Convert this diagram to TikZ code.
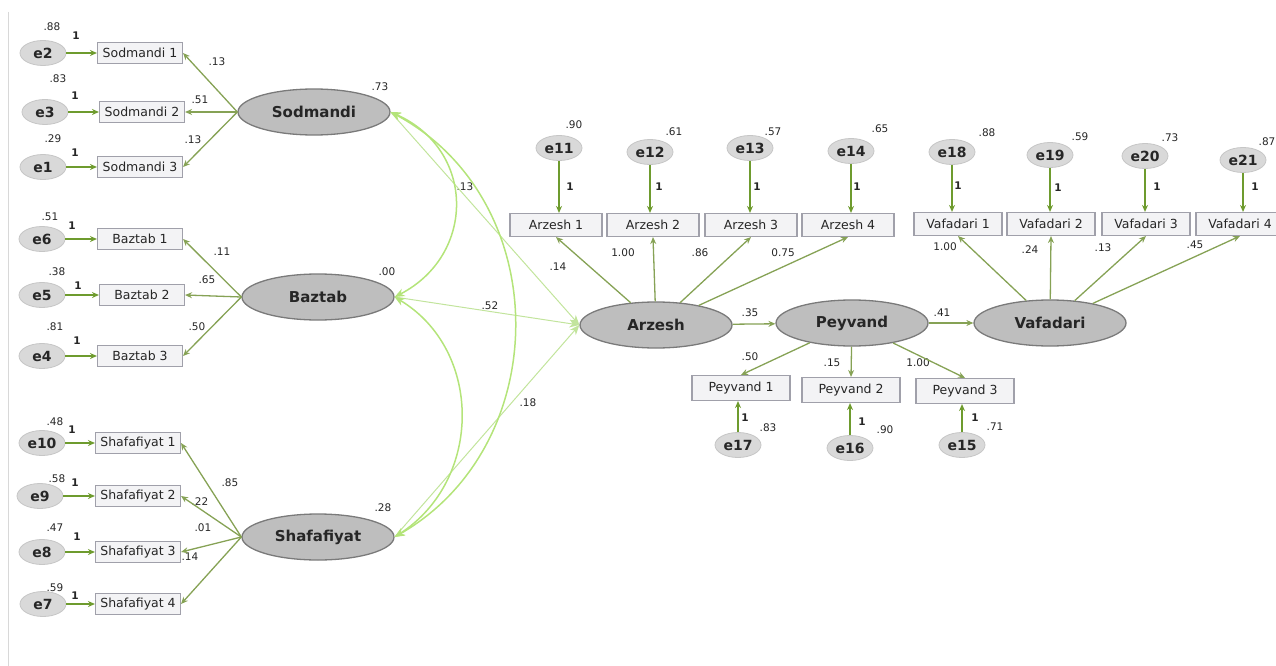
\documentclass[tikz,border=0pt]{standalone}
\usepackage{fontspec}
\setmainfont{DejaVu Sans}
\usetikzlibrary{shapes.geometric,arrows.meta}
\definecolor{latfill}{HTML}{BEBEBE}
\definecolor{latline}{HTML}{7A7A7A}
\definecolor{errfill}{HTML}{D9D9D9}
\definecolor{errline}{HTML}{C6C6C6}
\definecolor{boxfill}{HTML}{F3F3F5}
\definecolor{boxline}{HTML}{A0A0AA}
\definecolor{loadgreen}{HTML}{86A255}
\definecolor{fixgreen}{HTML}{6E9B2E}
\definecolor{covgreen}{HTML}{B4E47A}
\definecolor{reggreen}{HTML}{C2E49C}
\definecolor{rule}{HTML}{D8D8D8}
\definecolor{txt}{HTML}{262626}

\begin{document}
\begin{tikzpicture}[x=1pt,y=-1pt,text=txt,
    lat/.style={ellipse,draw=latline,fill=latfill,line width=1.3pt,minimum width=152pt,minimum height=46pt,inner sep=0pt,font=\bfseries\fontsize{15}{17}\selectfont},
    err/.style={ellipse,draw=errline,fill=errfill,line width=0.8pt,minimum width=46pt,minimum height=25pt,inner sep=0pt,font=\bfseries\fontsize{14}{16}\selectfont},
    ind/.style={rectangle,draw=boxline,fill=boxfill,line width=1.1pt,minimum width=85pt,minimum height=21pt,inner sep=0pt,font=\fontsize{12.5}{14}\selectfont},
    num/.style={font=\fontsize{10.5}{12}\selectfont,inner sep=0pt},
    one/.style={font=\bfseries\fontsize{10.5}{12}\selectfont,inner sep=0pt},
    load/.style={draw=loadgreen,line width=1.3pt,-{Stealth[length=7pt,width=6pt]}},
    fixd/.style={draw=fixgreen,line width=1.6pt,-{Stealth[length=7pt,width=6pt]}},
    reg/.style={draw=reggreen,line width=1pt,-{Stealth[length=10pt,width=8pt]}},
    cov/.style={draw=covgreen,line width=1.5pt,{Stealth[length=10pt,width=8pt]}-{Stealth[length=10pt,width=8pt]}}]
    \useasboundingbox (0,0) rectangle (1276,666);
    \coordinate (rt) at (8,12);
    \coordinate (rb) at (8,666);
    \draw[draw=rule,line width=1pt] (rt) -- (rb);

    \node[lat] (sod) at (314,112) {Sodmandi};
    \node[ind] (sod1) at (140,53) {Sodmandi 1};
    \node[ind] (sod2) at (142,112) {Sodmandi 2};
    \node[ind] (sod3) at (140,167) {Sodmandi 3};
    \node[err] (e2) at (43,53) {e2};
    \node[err] (e3) at (45,112) {e3};
    \node[err] (e1) at (43,167) {e1};
    \node[num] (v2) at (52,27) {.88};
    \node[one] (o2) at (76,36) {1};
    \node[num] (v3) at (58,79) {.83};
    \node[one] (o3) at (75,96) {1};
    \node[num] (v1) at (53,139) {.29};
    \node[one] (o1) at (75,153) {1};
    \node[num] (ls1) at (217,62) {.13};
    \node[num] (ls2) at (200,100) {.51};
    \node[num] (ls3) at (193,140) {.13};
    \node[num] (vsod) at (380,87) {.73};

    \node[lat] (baz) at (318,297) {Baztab};
    \node[ind] (baz1) at (140,239) {Baztab 1};
    \node[ind] (baz2) at (142,295) {Baztab 2};
    \node[ind] (baz3) at (140,356) {Baztab 3};
    \node[err] (e6) at (42,239) {e6};
    \node[err] (e5) at (42,295) {e5};
    \node[err] (e4) at (42,356) {e4};
    \node[num] (v6) at (50,217) {.51};
    \node[one] (o6) at (72,226) {1};
    \node[num] (v5) at (57,272) {.38};
    \node[one] (o5) at (78,286) {1};
    \node[num] (v4) at (55,327) {.81};
    \node[one] (o4) at (77,341) {1};
    \node[num] (lb1) at (222,252) {.11};
    \node[num] (lb2) at (207,280) {.65};
    \node[num] (lb3) at (197,327) {.50};
    \node[num] (vbaz) at (387,272) {.00};

    \node[lat] (sha) at (318,537) {Shafafiyat};
    \node[ind] (sha1) at (138,443) {Shafafiyat 1};
    \node[ind] (sha2) at (138,496) {Shafafiyat 2};
    \node[ind] (sha3) at (138,552) {Shafafiyat 3};
    \node[ind] (sha4) at (138,604) {Shafafiyat 4};
    \node[err] (e10) at (42,443) {e10};
    \node[err] (e9) at (40,496) {e9};
    \node[err] (e8) at (42,552) {e8};
    \node[err] (e7) at (43,604) {e7};
    \node[num] (v10) at (55,422) {.48};
    \node[one] (o10) at (72,430) {1};
    \node[num] (v9) at (57,479) {.58};
    \node[one] (o9) at (75,483) {1};
    \node[num] (v8) at (55,528) {.47};
    \node[one] (o8) at (77,537) {1};
    \node[num] (v7) at (55,588) {.59};
    \node[one] (o7) at (75,596) {1};
    \node[num] (lf1) at (230,483) {.85};
    \node[num] (lf2) at (200,502) {.22};
    \node[num] (lf3) at (203,528) {.01};
    \node[num] (lf4) at (190,557) {.14};
    \node[num] (vsha) at (383,508) {.28};

    \node[lat] (arz) at (656,325) {Arzesh};
    \node[ind,minimum width=92pt,minimum height=23pt] (arz1) at (556,225) {Arzesh 1};
    \node[ind,minimum width=92pt,minimum height=23pt] (arz2) at (653,225) {Arzesh 2};
    \node[ind,minimum width=92pt,minimum height=23pt] (arz3) at (751,225) {Arzesh 3};
    \node[ind,minimum width=92pt,minimum height=23pt] (arz4) at (848,225) {Arzesh 4};
    \node[err] (e11) at (559,148) {e11};
    \node[err] (e12) at (650,152) {e12};
    \node[err] (e13) at (750,148) {e13};
    \node[err] (e14) at (851,151) {e14};
    \node[num] (v11) at (574,125) {.90};
    \node[one] (o11) at (570,187) {1};
    \node[num] (v12) at (674,132) {.61};
    \node[one] (o12) at (659,187) {1};
    \node[num] (v13) at (773,132) {.57};
    \node[one] (o13) at (757,187) {1};
    \node[num] (v14) at (880,129) {.65};
    \node[one] (o14) at (857,187) {1};
    \node[num] (la1) at (558,267) {.14};
    \node[num] (la2) at (623,253) {1.00};
    \node[num] (la3) at (700,253) {.86};
    \node[num] (la4) at (783,253) {0.75};
    \node[num] (rs) at (465,187) {.13};
    \node[num] (rb) at (490,306) {.52};
    \node[num] (rf) at (528,403) {.18};
    \node[num] (rp) at (750,313) {.35};

    \node[lat] (pey) at (852,323) {Peyvand};
    \node[ind,minimum width=98pt,minimum height=25pt] (pey1) at (741,388) {Peyvand 1};
    \node[ind,minimum width=98pt,minimum height=25pt] (pey2) at (851,390) {Peyvand 2};
    \node[ind,minimum width=98pt,minimum height=25pt] (pey3) at (965,391) {Peyvand 3};
    \node[err] (e17) at (738,445) {e17};
    \node[err] (e16) at (850,448) {e16};
    \node[err] (e15) at (962,445) {e15};
    \node[num] (lp1) at (750,357) {.50};
    \node[num] (lp2) at (832,363) {.15};
    \node[num] (lp3) at (918,363) {1.00};
    \node[one] (o17) at (745,418) {1};
    \node[num] (v17) at (768,428) {.83};
    \node[one] (o16) at (862,422) {1};
    \node[num] (v16) at (885,430) {.90};
    \node[one] (o15) at (975,418) {1};
    \node[num] (v15) at (995,427) {.71};
    \node[num] (rv) at (942,313) {.41};

    \node[lat] (vaf) at (1050,323) {Vafadari};
    \node[ind,minimum width=88pt,minimum height=23pt] (vaf1) at (958,224) {Vafadari 1};
    \node[ind,minimum width=88pt,minimum height=23pt] (vaf2) at (1051,224) {Vafadari 2};
    \node[ind,minimum width=88pt,minimum height=23pt] (vaf3) at (1146,224) {Vafadari 3};
    \node[ind,minimum width=88pt,minimum height=23pt] (vaf4) at (1240,224) {Vafadari 4};
    \node[err] (e18) at (952,152) {e18};
    \node[err] (e19) at (1050,155) {e19};
    \node[err] (e20) at (1145,156) {e20};
    \node[err] (e21) at (1243,160) {e21};
    \node[num] (v18) at (987,133) {.88};
    \node[one] (o18) at (958,186) {1};
    \node[num] (v19) at (1080,137) {.59};
    \node[one] (o19) at (1058,188) {1};
    \node[num] (v20) at (1170,138) {.73};
    \node[one] (o20) at (1157,187) {1};
    \node[num] (v21) at (1267,142) {.87};
    \node[one] (o21) at (1255,187) {1};
    \node[num] (lv1) at (945,247) {1.00};
    \node[num] (lv2) at (1030,250) {.24};
    \node[num] (lv3) at (1103,248) {.13};
    \node[num] (lv4) at (1195,245) {.45};

    \draw[fixd] (e2) -- (sod1);
    \draw[fixd] (e3) -- (sod2);
    \draw[fixd] (e1) -- (sod3);
    \draw[fixd] (e6) -- (baz1);
    \draw[fixd] (e5) -- (baz2);
    \draw[fixd] (e4) -- (baz3);
    \draw[fixd] (e10) -- (sha1);
    \draw[fixd] (e9) -- (sha2);
    \draw[fixd] (e8) -- (sha3);
    \draw[fixd] (e7) -- (sha4);
    \draw[fixd] (e11) -- (e11 |- arz1.north);
    \draw[fixd] (e12) -- (e12 |- arz2.north);
    \draw[fixd] (e13) -- (e13 |- arz3.north);
    \draw[fixd] (e14) -- (e14 |- arz4.north);
    \draw[fixd] (e18) -- (e18 |- vaf1.north);
    \draw[fixd] (e19) -- (e19 |- vaf2.north);
    \draw[fixd] (e20) -- (e20 |- vaf3.north);
    \draw[fixd] (e21) -- (e21 |- vaf4.north);
    \draw[fixd] (e17) -- (e17 |- pey1.south);
    \draw[fixd] (e16) -- (e16 |- pey2.south);
    \draw[fixd] (e15) -- (e15 |- pey3.south);

    \draw[load] (sod.west) -- (sod1.east);
    \draw[load] (sod.west) -- (sod2.east);
    \draw[load] (sod.west) -- (sod3.east);
    \draw[load] (baz.west) -- (baz1.east);
    \draw[load] (baz.west) -- (baz2.east);
    \draw[load] (baz.west) -- (baz3.east);
    \draw[load] (sha.west) -- (sha1.east);
    \draw[load] (sha.west) -- (sha2.east);
    \draw[load] (sha.west) -- (sha3.east);
    \draw[load] (sha.west) -- (sha4.east);
    \draw[load] (arz) -- (arz1.south);
    \draw[load] (arz) -- (arz2.south);
    \draw[load] (arz) -- (arz3.south);
    \draw[load] (arz) -- (arz4.south);
    \draw[load] (pey) -- (pey1.north);
    \draw[load] (pey) -- (pey2.north);
    \draw[load] (pey) -- (pey3.north);
    \draw[load] (vaf) -- (vaf1.south);
    \draw[load] (vaf) -- (vaf2.south);
    \draw[load] (vaf) -- (vaf3.south);
    \draw[load] (vaf) -- (vaf4.south);
    \draw[load] (arz) -- (pey);
    \draw[load] (pey) -- (vaf);

    \draw[reg] (sod.east) -- (arz.west);
    \draw[reg] (baz.east) -- (arz.west);
    \draw[reg] (sha.east) -- (arz.west);
    \draw[cov] (sod.east) .. controls (476,150) and (476,255) .. (baz.east);
    \draw[cov] (baz.east) .. controls (483,350) and (483,480) .. (sha.east);
    \draw[cov] (sod.east) .. controls (555,200) and (555,445) .. (sha.east);
\end{tikzpicture}
\end{document}
